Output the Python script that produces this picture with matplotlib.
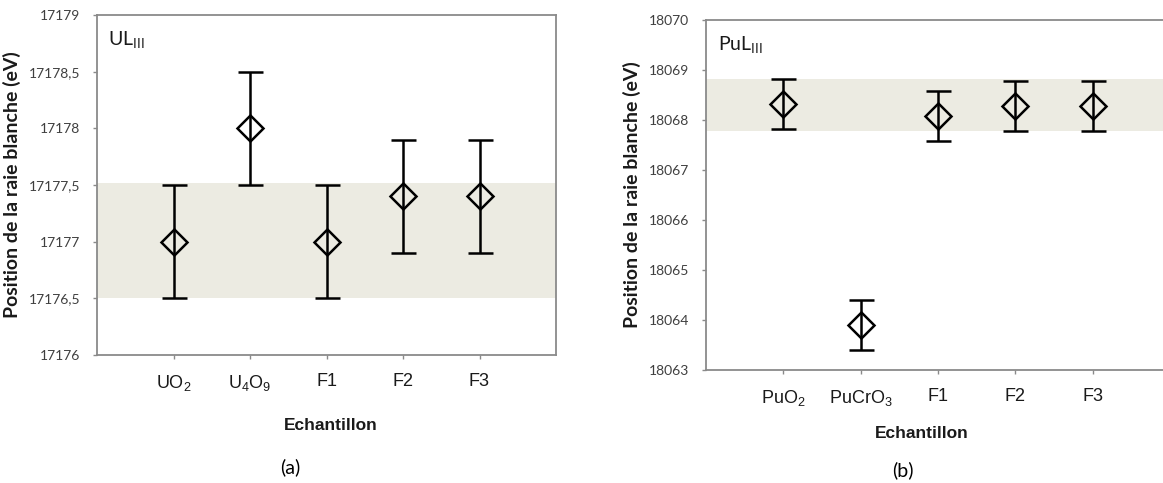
import numpy as np
import matplotlib
matplotlib.use("Agg")
import matplotlib.pyplot as plt

plt.rcParams['mathtext.default'] = 'regular'

# Donnees : UL_III (a)
echantillons_u = ['UO$_2$', 'U$_4$O$_9$', 'F1', 'F2', 'F3']
position_u = [17177.0, 17178.0, 17177.0, 17177.4, 17177.4]
erreur_u = [0.5, 0.5, 0.5, 0.5, 0.5]
bande_u = (17176.5, 17177.52)
yticks_u = [17176, 17176.5, 17177, 17177.5, 17178, 17178.5, 17179]

# Donnees : PuL_III (b)
echantillons_pu = ['PuO$_2$', 'PuCrO$_3$', 'F1', 'F2', 'F3']
position_pu = [18068.32, 18063.9, 18068.08, 18068.28, 18068.28]
erreur_pu = [0.5, 0.5, 0.5, 0.5, 0.5]
bande_pu = (18067.77, 18068.82)
yticks_pu = [18063, 18064, 18065, 18066, 18067, 18068, 18069, 18070]

GRIS = '#8a8a8a'
BANDE = '#ecebe2'
TEXTE = '#1a1a1a'


def format_fr(v):
    """Nombre avec virgule decimale (style Excel francais)"""
    return ('%g' % v).replace('.', ',')


def tracer_panneau(ax, noms, valeurs, erreurs, bande, yticks, titre, pad_y):
    x = np.arange(1, len(noms) + 1)
    ax.axhspan(bande[0], bande[1], color=BANDE, zorder=0, lw=0)
    ax.errorbar(x, valeurs, yerr=erreurs, fmt='D', ms=13, mfc='none', mec='black',
                mew=1.8, ecolor='black', elinewidth=1.8, capsize=9, capthick=1.8,
                color='black', zorder=3)

    ax.set_xlim(0, 6)
    ax.set_ylim(yticks[0], yticks[-1])
    ax.set_xticks(x)
    ax.set_xticklabels(noms, family='Liberation Sans', fontsize=13, color=TEXTE)
    ax.set_yticks(yticks)
    ax.set_yticklabels([format_fr(v) for v in yticks], family='Lato', fontsize=10,
                       color='#3f3f3f')
    ax.tick_params(axis='y', direction='out', length=3, width=1, color=GRIS, pad=pad_y)
    ax.tick_params(axis='x', direction='out', length=3, width=1, color=GRIS, pad=10)

    for s in ax.spines.values():
        s.set_color(GRIS)
        s.set_linewidth(1.3)

    ax.set_ylabel('Position de la raie blanche (eV)', family='Lato', fontweight='bold',
                  fontsize=14, color=TEXTE)
    ax.set_xlabel('Echantillon', family='Liberation Sans', fontweight='bold',
                  fontsize=12.5, color=TEXTE)

    ax.text(0.025, 0.96, titre, transform=ax.transAxes, ha='left', va='top',
            family='Lato', fontsize=14, color=TEXTE)


fig = plt.figure(figsize=(11.63, 4.83), dpi=100)

W, H = 1163.0, 483.0
ax1 = fig.add_axes([97 / W, 1 - 355 / H, (556 - 97) / W, (355 - 15) / H])
ax2 = fig.add_axes([706 / W, 1 - 370 / H, (1170 - 706) / W, (370 - 20) / H])

tracer_panneau(ax1, echantillons_u, position_u, erreur_u, bande_u, yticks_u,
               'UL$_{III}$', 9)
tracer_panneau(ax2, echantillons_pu, position_pu, erreur_pu, bande_pu, yticks_pu,
               'PuL$_{III}$', 9)

ax1.yaxis.set_label_coords(-0.165, 0.5)
ax2.yaxis.set_label_coords(-0.14, 0.5)
ax1.xaxis.set_label_coords(0.51, -0.185)
ax2.xaxis.set_label_coords(0.465, -0.16)

fig.text(290 / W, 1 - 467 / H, '(a)', family='Lato', fontsize=14, ha='center', va='center')
fig.text(903 / W, 1 - 470 / H, '(b)', family='Lato', fontsize=14, ha='center', va='center')

fig.savefig('out.png', dpi=100)
